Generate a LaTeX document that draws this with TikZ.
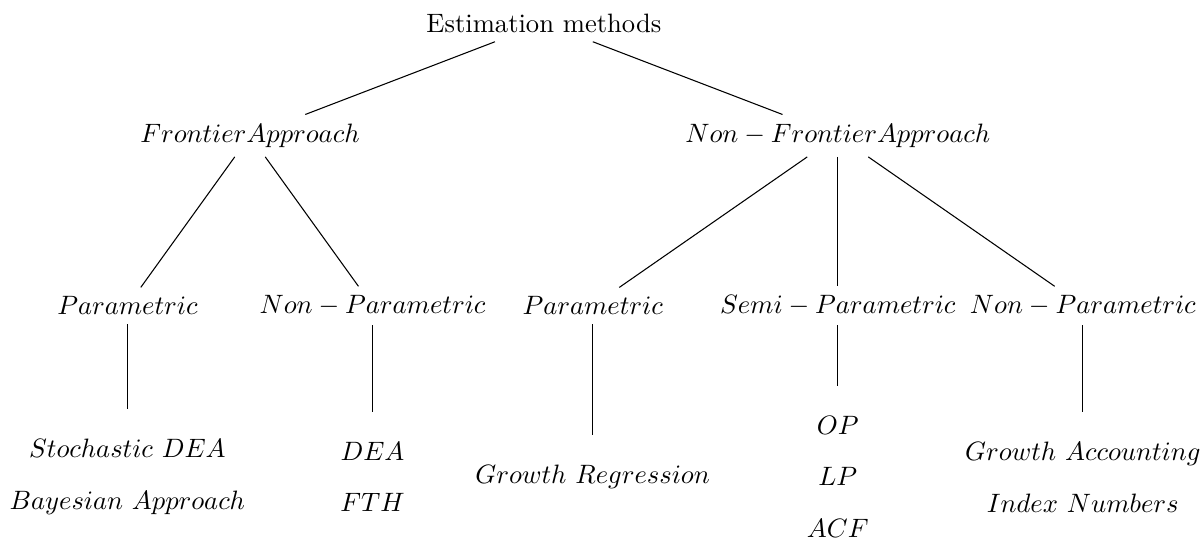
\documentclass[tikz,border=0pt]{standalone}
\usepackage{amsmath}
\usepackage{tikz}

\begin{document}
\begin{tikzpicture}[leaf/.style={align=center, inner ysep=11pt}]
	\useasboundingbox (-7.19, 0.304) rectangle (8.70, -6.86);
	\node (0) at (0, 0) {Estimation methods};
	\node (1) at (-3.885, -1.49) {$Frontier Approach$};
	\node (2) at (3.885, -1.49) {$Non-Frontier Approach$};
	\node (3) at (-5.505, -3.74) {$Parametric$};
	\node (4) at (-2.265, -3.74) {$Non-Parametric$};
	\node (5) at (0.645, -3.74) {$Parametric$};
	\node (6) at (3.885, -3.74) {$Semi-Parametric$};
	\node (7) at (7.125, -3.74) {$Non-Parametric$};
	\node [leaf] (8) at (-5.505, -6.0) {$Stochastic\ DEA$\\[7.5pt]$Bayesian\ Approach$};
	\node [leaf] (9) at (-2.265, -6.0) {$DEA$\\[7.5pt]$FTH$};
	\node [leaf] (10) at (0.645, -6.0) {$Growth\ Regression$};
	\node [leaf] (11) at (3.885, -6.0) {$OP$\\[7.5pt]$LP$\\[7.5pt]$ACF$};
	\node [leaf] (12) at (7.125, -6.0) {$Growth\ Accounting$\\[7.5pt]$Index\ Numbers$};
	\draw (0) to (1);
	\draw (0) to (2);
	\draw (1) to (3);
	\draw (1) to (4);
	\draw (2) to (5);
	\draw (2) to (6);
	\draw (2) to (7);
	\draw (3) to (8);
	\draw (4) to (9);
	\draw (5) to (10);
	\draw (6) to (11);
	\draw (7) to (12);
\end{tikzpicture}
\end{document}
